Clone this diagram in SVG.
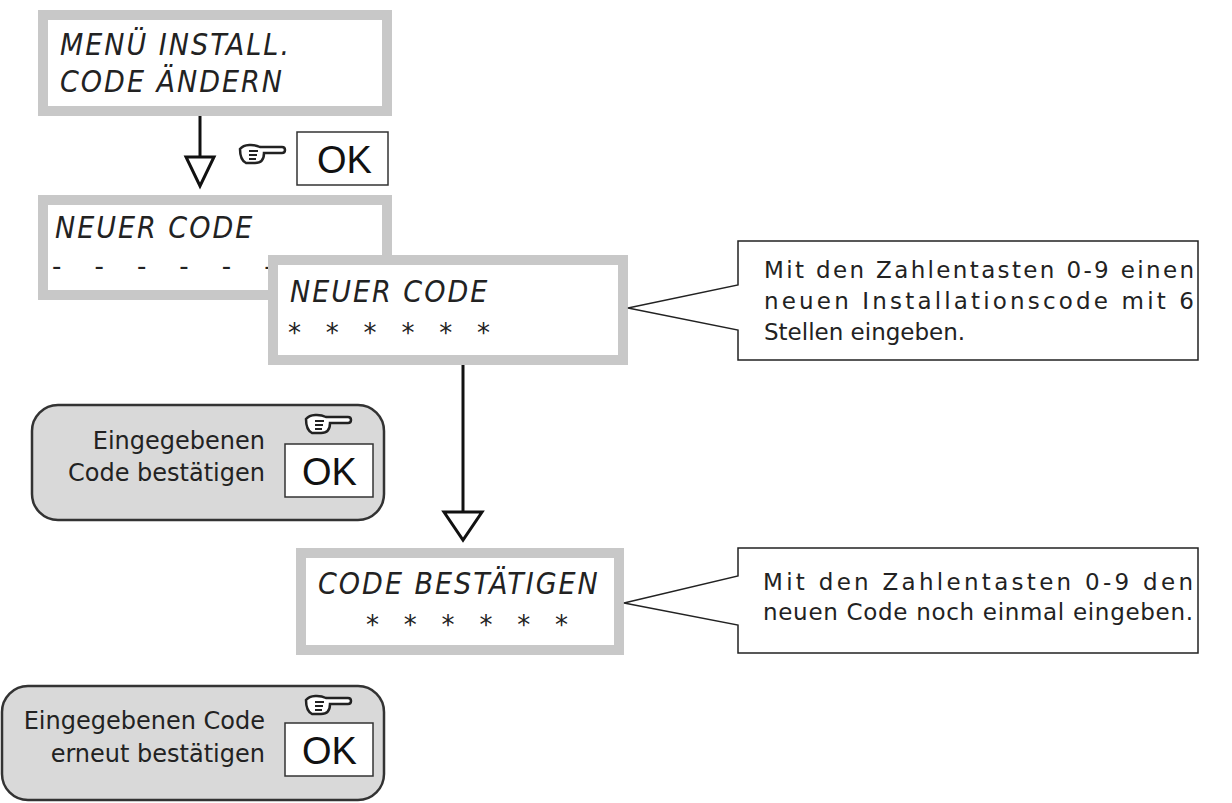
<svg xmlns="http://www.w3.org/2000/svg" width="1232" height="803" viewBox="0 0 1232 803">
<defs>
<style>
.lcd{fill:#fff;stroke:#c8c8c8;stroke-width:10}
.lt{font-family:"DejaVu Sans Condensed",sans-serif;font-style:italic;font-size:30px;fill:#222;letter-spacing:2px}
.st{font-family:"DejaVu Sans",sans-serif;font-size:26px;fill:#222;white-space:pre}
.btn{fill:#d9d9d9;stroke:#333;stroke-width:2.5}
.ok{fill:#fff;stroke:#333;stroke-width:1.5}
.okt{font-family:"Liberation Sans",sans-serif;font-size:38px;fill:#111}
.bt{font-family:"DejaVu Sans",sans-serif;font-size:24px;fill:#222}
.call{fill:#fff;stroke:#222;stroke-width:1.5}
.ct{font-family:"DejaVu Sans",sans-serif;font-size:23px;fill:#222}
.ln{stroke:#111;stroke-width:3;fill:none}
.tri{fill:#fff;stroke:#111;stroke-width:3}
</style>
<g id="hand">
<path d="M0,5 C4,0 14,0 20,3 L42,3 C46,3 46,9 42,9 L24,9 C24,14 22,19 15,19 L6,19 C2,17 0,12 0,5 Z" fill="#fff" stroke="#222" stroke-width="2.5"/>
<path d="M9,7 L18,7 M9,11 L17,11 M9,15 L16,15" stroke="#222" stroke-width="2"/>
</g>
</defs>
<g id="connectors">
<line class="ln" x1="200" y1="116" x2="200" y2="157"/>
<path class="tri" d="M186,157 L214,157 L200,186 Z"/>
<line class="ln" x1="463" y1="365" x2="463" y2="512"/>
<path class="tri" d="M444,512 L482,512 L463,540 Z"/>
</g>
<g id="menu"><rect class="lcd" x="43" y="15" width="344" height="96"/>
<text class="lt" x="60" y="55">MENÜ INSTALL.</text><text class="lt" x="60" y="92">CODE ÄNDERN</text></g>
<g id="ok1"><use href="#hand" x="240" y="144"/><rect class="ok" x="297" y="132" width="91" height="53"/><text class="okt" x="317" y="173">OK</text></g>
<g id="neu1"><rect class="lcd" x="43" y="200" width="344" height="95"/>
<text class="lt" x="55" y="238">NEUER CODE</text><text class="st" x="52" y="275" xml:space="preserve">-    -    -    -    -    -</text></g>
<g id="neu2"><rect class="lcd" x="273" y="260" width="350" height="100"/>
<text class="lt" x="290" y="302">NEUER CODE</text><text class="st" x="288" y="342" xml:space="preserve">*   *   *   *   *   *</text></g>
<g id="call1"><path class="call" d="M738,241 L1198,241 L1198,360 L738,360 L738,330 L628,308 L738,285 Z"/>
<text class="ct" x="764" y="278" textLength="430" lengthAdjust="spacing">Mit den Zahlentasten 0-9 einen</text>
<text class="ct" x="764" y="309" textLength="430" lengthAdjust="spacing">neuen Installationscode mit 6</text>
<text class="ct" x="764" y="340">Stellen eingeben.</text></g>
<g id="btn1"><rect class="btn" x="32" y="405" width="352" height="115" rx="26"/>
<text class="bt" x="265" y="449" text-anchor="end">Eingegebenen</text>
<text class="bt" x="265" y="481" text-anchor="end">Code bestätigen</text>
<use href="#hand" x="306" y="414"/><rect class="ok" x="285" y="444" width="88" height="53"/><text class="okt" x="302" y="485">OK</text></g>
<g id="best"><rect class="lcd" x="301" y="553" width="318" height="97"/>
<text class="lt" x="318" y="594">CODE BESTÄTIGEN</text><text class="st" x="366" y="634" xml:space="preserve">*   *   *   *   *   *</text></g>
<g id="call2"><path class="call" d="M738,548 L1198,548 L1198,653 L738,653 L738,625 L624,603 L738,576 Z"/>
<text class="ct" x="763" y="590" textLength="430" lengthAdjust="spacing">Mit den Zahlentasten 0-9 den</text>
<text class="ct" x="763" y="620" textLength="430">neuen Code noch einmal eingeben.</text></g>
<g id="btn2"><rect class="btn" x="2" y="686" width="382" height="114" rx="26"/>
<text class="bt" x="265" y="729" text-anchor="end">Eingegebenen Code</text>
<text class="bt" x="265" y="762" text-anchor="end">erneut bestätigen</text>
<use href="#hand" x="306" y="695"/><rect class="ok" x="285" y="723" width="88" height="53"/><text class="okt" x="302" y="764">OK</text></g>
</svg>
